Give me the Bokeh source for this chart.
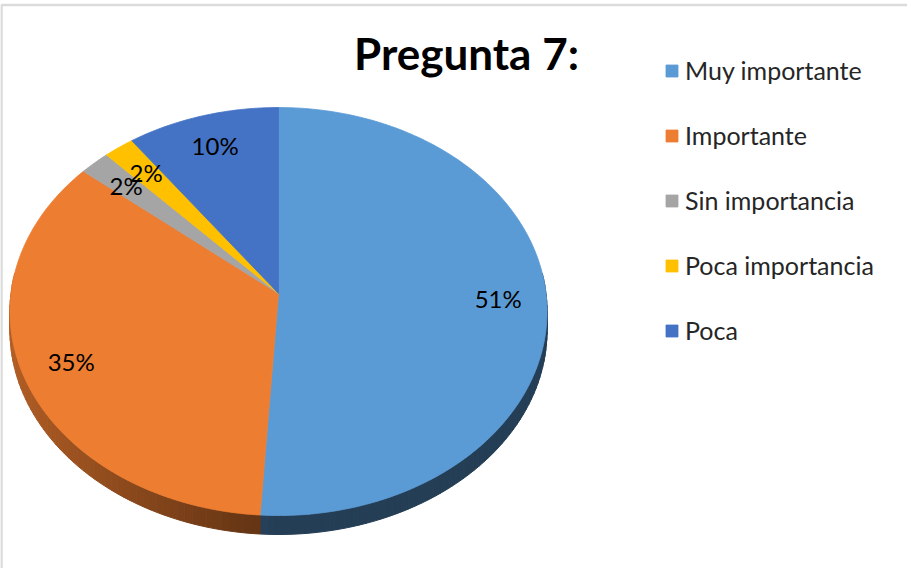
import numpy as np
from bokeh.plotting import figure
from bokeh.models import Range1d, Legend, LegendItem, Label, BoxAnnotation, ColumnDataSource
from bokeh.embed import file_html
from bokeh.resources import INLINE
from bokeh.core.properties import value

# ---------------- data ----------------
title_text = "Pregunta 7:"
categories = ["Muy importante", "Importante", "Sin importancia", "Poca importancia", "Poca"]
percentages = [51, 35, 2, 2, 10]
colors = ["#5B9BD5", "#ED7D31", "#A5A5A5", "#FFC000", "#4472C4"]

# ---------------- layout ----------------
W, H = 907, 568
MARGIN = 8


def sx(X):
    return X - MARGIN


def sy(Y):
    return H + MARGIN - Y


# pie geometry (perspective-tilted disc)
CX, AY = sx(286), sy(301)
A, B, K = 267.5, 202.4, 0.0883
DEPTH = 19
LABEL_R = 0.82


def proj(theta, r=1.0):
    s, c = np.sin(theta), np.cos(theta)
    d = 1 + K * r * c
    return CX + A * r * s / d, AY + B * r * c / d


p = figure(width=W, height=H, output_backend="svg", toolbar_location=None,
           x_range=Range1d(0, W), y_range=Range1d(0, H), min_border=0,
           x_axis_location=None, y_axis_location=None, outline_line_color=None,
           background_fill_color="white", border_fill_color="white")
p.grid.visible = False

# chart border
p.add_layout(BoxAnnotation(left=1, top=sy(12.5), right=W + 50, bottom=-50,
                           fill_alpha=0, line_color="#878787", line_width=2.5))

total = float(sum(percentages))
fracs = np.array(percentages) / total
starts = np.concatenate([[0], np.cumsum(fracs)[:-1]]) * 2 * np.pi
ends = np.cumsum(fracs) * 2 * np.pi


def shade(hexcol, f):
    h = hexcol.lstrip("#")
    r, g, b = (int(h[i:i + 2], 16) for i in (0, 2, 4))
    return "#%02x%02x%02x" % (int(r * f), int(g * f), int(b * f))


# side (thickness) strips
side_xs, side_ys, side_cols = [], [], []
for st, en, col in zip(starts, ends, colors):
    lo, hi = max(st, np.pi / 2 - 0.1), min(en, 3 * np.pi / 2 + 0.1)
    if hi <= lo:
        continue
    n = max(2, int((hi - lo) / (2 * np.pi) * 240))
    th = np.linspace(lo, hi, n + 1)
    for t1, t2 in zip(th[:-1], th[1:]):
        x1, y1 = proj(t1)
        x2, y2 = proj(t2)
        side_xs.append([x1, x2, x2, x1])
        side_ys.append([y1, y2, y2 - DEPTH, y1 - DEPTH])
        tm = 0.5 * (t1 + t2)
        f = 0.4 + 0.36 * max(0.0, -np.sin(tm))
        side_cols.append(shade(col, f))
p.patches(side_xs, side_ys, fill_color=side_cols, line_color=side_cols, line_width=1)

# top faces
items = []
for i, (st, en, col, cat) in enumerate(zip(starts, ends, colors, categories)):
    n = max(3, int((en - st) / (2 * np.pi) * 360))
    th = np.linspace(st, en, n + 1)
    xs, ys = proj(th)
    px = np.concatenate([[CX], xs])
    py = np.concatenate([[AY], ys])
    r = p.patch(px, py, fill_color=col, line_color=col, line_width=0.8)
    items.append(LegendItem(label=cat, renderers=[r]))

# percentage labels
mids = 0.5 * (starts + ends)
lx, ly = proj(mids, LABEL_R)
labels = ["%d%%" % v for v in percentages]
src = ColumnDataSource(dict(x=lx, y=ly, t=labels))
p.text(x="x", y="y", text="t", source=src, text_align="center", text_baseline="middle",
       text_font=value("Lato"), text_font_size="24px", text_color="#000000")

# title
p.add_layout(Label(x=sx(474), y=sy(60), text=title_text, text_align="center",
                   text_baseline="alphabetic", text_font="Lato", text_font_style="bold",
                   text_font_size="44px", text_color="#000000"))

legend = Legend(items=items, location=(sx(672), 223), orientation="vertical",
                glyph_width=15, glyph_height=15, label_standoff=6, spacing=35,
                padding=0, margin=0, border_line_color=None, background_fill_alpha=0,
                label_text_font="Lato", label_text_font_size="25px",
                label_text_color="#262626")
p.add_layout(legend)

open("out.html", "w").write(file_html(p, INLINE))
